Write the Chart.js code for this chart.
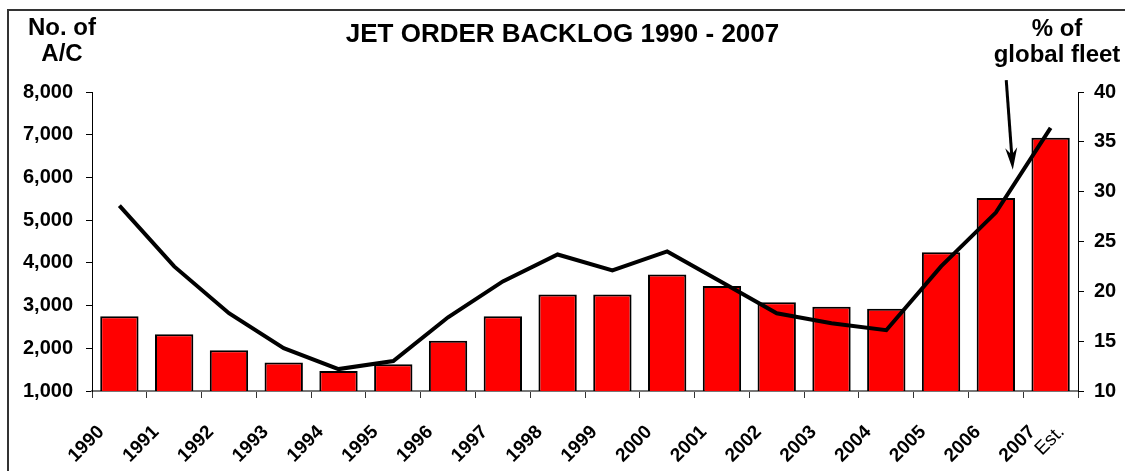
<!DOCTYPE html>
<html>
<head>
<meta charset="utf-8">
<title>Jet order backlog 1990 - 2007</title>
<script src="https://cdn.jsdelivr.net/npm/chart.js@4.4.1/dist/chart.umd.min.js"></script>
<style>
    html, body { margin: 0; padding: 0; background: #fff; }
    #wrap { position: relative; width: 1125px; height: 471px; }
</style>
</head>
<body>
<div id="wrap"><canvas id="backlog-chart"></canvas></div>
<script>
// Values
const years = ['1990', '1991', '1992', '1993', '1994', '1995', '1996', '1997', '1998',
               '1999', '2000', '2001', '2002', '2003', '2004', '2005', '2006', '2007'];
const xTickLabels = [...years, 'Est.'];
const backlog = [2750, 2330, 1955, 1665, 1470, 1625, 2175, 2750, 3260,
                 3260, 3725, 3460, 3080, 2970, 2925, 4250, 5520, 6930];
const fleetShare = [28.6, 22.5, 17.8, 14.3, 12.2, 13.0, 17.4, 21.0, 23.7,
                    22.1, 24.0, 20.9, 17.8, 16.8, 16.1, 22.5, 27.9, 36.4];
const backlogTicks = [1000, 2000, 3000, 4000, 5000, 6000, 7000, 8000];
const shareTicks = [10, 15, 20, 25, 30, 35, 40];

const chartTitle = 'JET ORDER BACKLOG 1990 - 2007';
const leftCaption = ['No. of', 'A/C'];
const rightCaption = ['% of', 'global fleet'];

const FONT = '"Liberation Sans", Arial, Helvetica, sans-serif';

// year labels sit just right of each category boundary, "Est." sits inside the last bar
function labelPositions() {
    const pos = years.map((y, i) => i + 0.17);
    pos.push(years.length - 0.3);
    return pos;
}

/**
 * Frame, title, axis captions and the arrow pointing at the line
 */
const decorations = {
    id: 'decorations',
    beforeDraw(chart) {
        const ctx = chart.ctx;
        ctx.save();
        ctx.fillStyle = '#fff';
        ctx.fillRect(0, 0, chart.width, chart.height);
        ctx.fillStyle = '#333';
        ctx.fillRect(7, 9, chart.width - 7, 2);
        ctx.fillRect(7, 9, 2, chart.height - 9);
        ctx.restore();
    },
    afterDraw(chart) {
        const { ctx, scales } = chart;
        ctx.save();
        ctx.fillStyle = '#000';
        ctx.textAlign = 'center';
        ctx.textBaseline = 'alphabetic';

        ctx.font = 'bold 26px ' + FONT;
        ctx.fillText(chartTitle, chart.width / 2, 42);

        ctx.font = 'bold 24px ' + FONT;
        ctx.fillText(leftCaption[0], 62, 35);
        ctx.fillText(leftCaption[1], 62, 61);
        ctx.fillText(rightCaption[0], 1057, 36);
        ctx.fillText(rightCaption[1], 1057, 62);

        // arrow from the caption down to the 2006-2007 segment
        const x = scales.x, y1 = scales.y1;
        const step = x.getPixelForValue(17) - x.getPixelForValue(16);
        const x0 = x.getPixelForValue(16) + 0.19 * step;
        const tipX = x.getPixelForValue(16) + 0.31 * step;
        const y0 = y1.getPixelForValue(41.2);
        const tipY = y1.getPixelForValue(32.2);
        const headLen = 22;
        const ang = Math.atan2(tipY - y0, tipX - x0);
        const ux = Math.cos(ang), uy = Math.sin(ang);
        const px = -uy, py = ux;

        ctx.strokeStyle = '#000';
        ctx.lineWidth = 3;
        ctx.beginPath();
        ctx.moveTo(x0, y0);
        ctx.lineTo(tipX - ux * 14, tipY - uy * 14);
        ctx.stroke();

        ctx.beginPath();
        ctx.moveTo(tipX, tipY);
        ctx.lineTo(tipX - ux * headLen + px * 6, tipY - uy * headLen + py * 6);
        ctx.lineTo(tipX - ux * (headLen - 7), tipY - uy * (headLen - 7));
        ctx.lineTo(tipX - ux * headLen - px * 6, tipY - uy * headLen - py * 6);
        ctx.closePath();
        ctx.fill();
        ctx.restore();
    }
};

const tickFont = { family: FONT, size: 20, weight: 'bold' };

new Chart(document.getElementById('backlog-chart'), {
    data: {
        labels: years,
        datasets: [
            {
                type: 'line',
                label: '% of global fleet',
                data: fleetShare,
                yAxisID: 'y1',
                borderColor: '#000',
                borderWidth: 4,
                pointRadius: 0,
                tension: 0,
                order: 0
            },
            {
                type: 'bar',
                label: 'No. of A/C',
                data: backlog,
                yAxisID: 'y',
                backgroundColor: '#ff0000',
                borderColor: '#000',
                borderWidth: 2,
                borderSkipped: false,
                categoryPercentage: 1,
                barPercentage: 0.7,
                order: 1
            }
        ]
    },
    options: {
        responsive: true,
        maintainAspectRatio: false,
        animation: false,
        layout: { padding: { top: 92, left: 0, right: 0, bottom: 0 } },
        plugins: {
            legend: { display: false },
            tooltip: { enabled: false },
            title: { display: false }
        },
        scales: {
            x: {
                type: 'category',
                position: 'bottom',
                offset: true,
                grid: {
                    offset: true,
                    drawOnChartArea: false,
                    color: '#333',
                    tickLength: 7
                },
                border: { color: '#777', width: 2 },
                ticks: { display: false },
                afterFit: scale => { scale.height = 8; }
            },
            xLabels: {
                type: 'linear',
                position: 'bottom',
                min: 0,
                max: years.length,
                grid: { display: false, drawTicks: false },
                border: { display: false },
                afterBuildTicks: scale => {
                    scale.ticks = labelPositions().map(v => ({ value: v }));
                },
                ticks: {
                    autoSkip: false,
                    maxRotation: 45,
                    minRotation: 45,
                    padding: 22,
                    color: '#000',
                    callback: (value, index) => xTickLabels[index],
                    font: ctx => ({
                        family: FONT,
                        size: 19,
                        weight: ctx.index === xTickLabels.length - 1 ? 'normal' : 'bold'
                    })
                },
                afterFit: scale => { scale.height = 72; }
            },
            y: {
                position: 'left',
                min: backlogTicks[0],
                max: backlogTicks[backlogTicks.length - 1],
                afterBuildTicks: scale => {
                    scale.ticks = backlogTicks.map(v => ({ value: v }));
                },
                grid: { drawOnChartArea: false, color: '#000', tickLength: 6 },
                border: { color: '#000', width: 1 },
                ticks: {
                    color: '#000',
                    font: tickFont,
                    padding: 13,
                    callback: v => v.toLocaleString('en-US')
                },
                afterFit: scale => { scale.width = 92; }
            },
            y1: {
                position: 'right',
                min: shareTicks[0],
                max: shareTicks[shareTicks.length - 1],
                afterBuildTicks: scale => {
                    scale.ticks = shareTicks.map(v => ({ value: v }));
                },
                grid: { drawOnChartArea: false, color: '#000', tickLength: 6 },
                border: { color: '#000', width: 1 },
                ticks: {
                    color: '#000',
                    font: tickFont,
                    padding: 10
                },
                afterFit: scale => { scale.width = 47; }
            }
        }
    },
    plugins: [decorations]
});
</script>
</body>
</html>
